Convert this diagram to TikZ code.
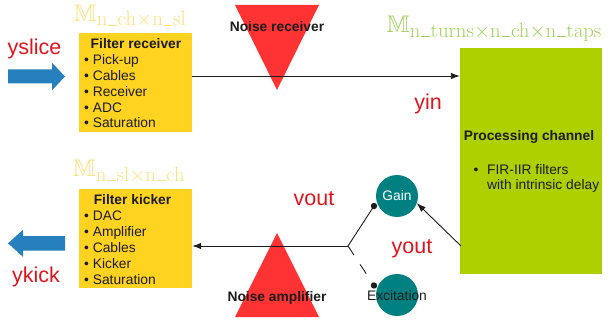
\documentclass[tikz,border=0pt]{standalone}
\usepackage[no-math]{fontspec}
\setmainfont{Liberation Sans}
\usepackage{amssymb}
\usetikzlibrary{arrows.meta}
\definecolor{boxyellow}{HTML}{FFD320}
\definecolor{procgreen}{HTML}{AECF00}
\definecolor{noisered}{HTML}{FF3333}
\definecolor{arrowblue}{HTML}{2580BD}
\definecolor{tealc}{HTML}{008080}
\definecolor{lblred}{HTML}{E3131E}
\definecolor{mathyellow}{HTML}{FFE07A}
\definecolor{mathgreen}{HTML}{A2D05A}
\definecolor{txt}{HTML}{1C1C1C}
\newcommand{\mus}{\kern0.04em\rule{0.42em}{0.05em}\kern0.04em}
\newcommand{\mlabel}[1]{{\fontsize{24}{24}\selectfont$\mathbb{M}$}\raisebox{-4.5pt}{\fontsize{20.5}{21}\selectfont$#1$}}
\begin{document}
\begin{tikzpicture}[x=1pt,y=-1pt,
  every node/.style={font=\fontsize{13.8}{15.8}\selectfont, inner sep=0pt, text=txt},
  fbox/.style={fill=boxyellow, draw=none, minimum width=113pt, minimum height=99pt},
  conn/.style={line width=0.9pt, draw=txt},
  arr/.style={-{Latex[length=9pt,width=6.5pt]}},
  lbl/.style={text=lblred, font=\fontsize{21.5}{24}\selectfont, anchor=base},
  bold/.style={font=\fontsize{13.8}{15.8}\selectfont\bfseries},
  item/.style={anchor=base west},
  circ/.style={circle, fill=tealc, minimum size=42pt},
  dotc/.style={fill=txt}]
\useasboundingbox (0,0) rectangle (612,320);

% blue arrows
\fill[arrowblue] (8,69.3) -- (52,69.3) -- (52,62.7) -- (65,76.5) -- (52,90.3) -- (52,83.3) -- (8,83.3) -- cycle;
\fill[arrowblue] (65,236) -- (23,236) -- (23,229.8) -- (8,243.3) -- (23,256.8) -- (23,250.7) -- (65,250.7) -- cycle;

% boxes
\node[fbox] (recv) at (135.5,82.5) {};
\node[fbox] (kick) at (135.5,238.5) {};
\node[fill=procgreen, minimum width=142pt, minimum height=226pt] (proc) at (531,161) {};

% noise triangles
\fill[noisered] (235,5) -- (319,5) -- (277,90) -- cycle;
\fill[noisered] (235,317) -- (319,317) -- (277,233) -- cycle;

% circles
\node[circ] (gain) at (397,196) {};
\node[circ] (exc) at (397,295) {};
\node[text=white] (gaintext) at (397,196) {Gain};
\node (exctext) at (397,296) {Excitation};

% box texts
\node[bold, anchor=base] (recvtitle) at (136,49) {Filter receiver};
\foreach \t [count=\i] in {Pick-up, Cables, Receiver, ADC, Saturation}
  \node[item] (ri\i) at (84, 49+15.8*\i) {\textbullet\ \t};
\node[bold, anchor=base] (kicktitle) at (132.5,204.5) {Filter kicker};
\foreach \t [count=\i] in {DAC, Amplifier, Cables, Kicker, Saturation}
  \node[item] (ki\i) at (84, 204.5+15.9*\i) {\textbullet\ \t};
\node[bold, anchor=base] (proctitle) at (529,140.5) {Processing channel};
\node[item] (pb) at (473.3,174.3) {\textbullet};
\node[item] (p1) at (487,174.3) {FIR-IIR filters};
\node[item] (p2) at (487,189.3) {with intrinsic delay};

% noise texts
\node[bold, anchor=base] (nrec) at (277,32) {Noise receiver};
\node[bold, anchor=base] (namp) at (277,301) {Noise amplifier};

% math labels
\node[anchor=base west, text=mathyellow] (m1) at (74,21.2) {\mlabel{\mathrm{n\mus ch}{\times}\mathrm{n\mus sl}}};
\node[anchor=base west, text=mathyellow] (m2) at (73,176.7) {\mlabel{\mathrm{n\mus sl}{\times}\mathrm{n\mus ch}}};
\node[anchor=base west, text=mathgreen] (m3) at (387,33) {\mlabel{\mathrm{n\mus turns}{\times}\mathrm{n\mus ch}{\times}\mathrm{n\mus taps}}};

% connectors
\coordinate (topline) at (0,76);
\coordinate (junc) at (348,246);
\coordinate (procout) at (461,246);
\coordinate (gdot) at (374,206);
\coordinate (edot) at (374,285.5);
\draw[conn, arr] (recv.east |- topline) -- (proc.west |- topline);
\draw[conn, arr] (junc) -- (kick.east |- junc);
\draw[conn] (junc) -- (gdot);
\draw[conn, dash pattern=on 11pt off 11pt] (junc) -- (edot);
\fill[dotc] (gdot) circle (3.2pt);
\fill[dotc] (edot) circle (3.2pt);
\draw[conn, arr] (procout) -- (gain.-20);

% red labels
\node[lbl] (yslice) at (34.5,55) {yslice};
\node[lbl] (yin) at (428,110) {yin};
\node[lbl] (vout) at (314,206) {vout};
\node[lbl] (yout) at (412,253.3) {yout};
\node[lbl] (ykick) at (36,282.5) {ykick};
\end{tikzpicture}
\end{document}
